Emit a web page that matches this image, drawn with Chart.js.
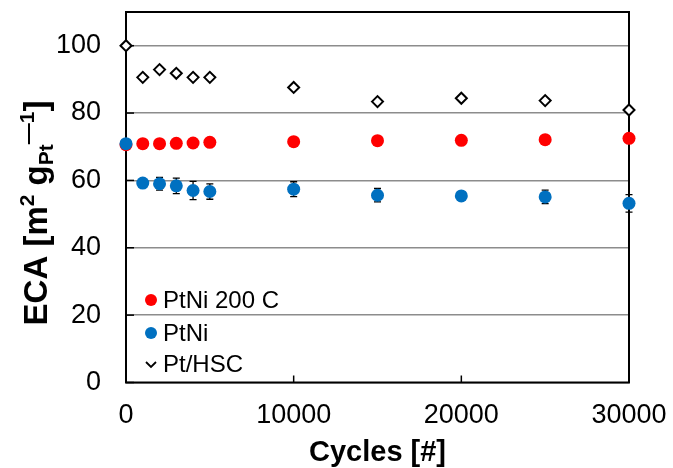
<!DOCTYPE html>
<html>
<head>
<meta charset="utf-8">
<script src="https://cdn.jsdelivr.net/npm/chart.js@4"></script>
<style>
  html, body { margin: 0; padding: 0; background: #fff; }
  #wrap { width: 673px; height: 468px; }
</style>
</head>
<body>
<div id="wrap"><canvas id="chart" width="673" height="468"></canvas></div>
<script>
// data
const cycles = [0, 1000, 2000, 3000, 4000, 5000, 10000, 15000, 20000, 25000, 30000];
const ptni200 = [70.6, 70.9, 70.9, 71.0, 71.1, 71.3, 71.5, 71.8, 71.9, 72.1, 72.5];
const ptni = [70.9, 59.2, 59.0, 58.4, 57.0, 56.7, 57.4, 55.6, 55.4, 55.1, 53.2];
const ptniErr = [0, 0.8, 1.9, 2.3, 2.7, 2.3, 2.2, 2.0, 0.5, 2.0, 2.6];
const ptHsc = [100, 90.6, 92.9, 91.8, 90.6, 90.6, 87.6, 83.4, 84.4, 83.7, 80.9];
const xTicks = [0, 10000, 20000, 30000];
const yTicks = [0, 20, 40, 60, 80, 100];

const FONT = '"Liberation Sans", Arial, sans-serif';
const RED = '#FF0000', BLUE = '#0070C0';

function pts(ys) { return cycles.map((c, i) => ({ x: c, y: ys[i] })); }

// text made of pieces with sup/sub offsets
function richWidth(ctx, parts) {
  let w = 0;
  parts.forEach(p => { ctx.font = 'bold ' + p.size + 'px ' + FONT; w += ctx.measureText(p.t).width; });
  return w;
}
function drawRich(ctx, parts, x, y) {
  let cx = x - richWidth(ctx, parts) / 2;
  parts.forEach(p => {
    ctx.font = 'bold ' + p.size + 'px ' + FONT;
    ctx.fillText(p.t, cx, y + (p.dy || 0));
    cx += ctx.measureText(p.t).width;
  });
}

const decor = {
  id: 'decor',
  beforeDatasetsDraw(chart) {
    const { ctx, chartArea: a, scales: { x, y } } = chart;
    ctx.save();
    // inner tick marks
    ctx.strokeStyle = '#000';
    ctx.lineWidth = 1.5;
    yTicks.forEach(v => {
      const py = y.getPixelForValue(v);
      ctx.beginPath(); ctx.moveTo(a.left, py); ctx.lineTo(a.left + 8, py); ctx.stroke();
    });
    xTicks.forEach(v => {
      const px = x.getPixelForValue(v);
      ctx.beginPath(); ctx.moveTo(px, a.bottom); ctx.lineTo(px, a.bottom - 7); ctx.stroke();
    });
    // plot frame
    ctx.lineWidth = 2;
    ctx.strokeRect(a.left, a.top, a.right - a.left, a.bottom - a.top);
    // error bars for PtNi
    ctx.lineWidth = 1.3;
    cycles.forEach((c, i) => {
      if (!ptniErr[i]) return;
      const px = x.getPixelForValue(c);
      const y1 = y.getPixelForValue(ptni[i] + ptniErr[i]);
      const y2 = y.getPixelForValue(ptni[i] - ptniErr[i]);
      ctx.beginPath();
      ctx.moveTo(px, y1); ctx.lineTo(px, y2);
      ctx.moveTo(px - 3.5, y1); ctx.lineTo(px + 3.5, y1);
      ctx.moveTo(px - 3.5, y2); ctx.lineTo(px + 3.5, y2);
      ctx.stroke();
    });
    ctx.restore();
  },
  afterDraw(chart) {
    const { ctx, chartArea: a } = chart;
    ctx.save();
    ctx.fillStyle = '#000';
    ctx.textBaseline = 'alphabetic';
    // x title
    ctx.font = 'bold 29px ' + FONT;
    ctx.textAlign = 'center';
    ctx.fillText('Cycles [#]', (a.left + a.right) / 2, 461);
    // y title
    ctx.translate(47, 213);
    ctx.rotate(-Math.PI / 2);
    ctx.textAlign = 'left';
    drawRich(ctx, [
      { t: 'ECA [m', size: 33 },
      { t: '2', size: 21, dy: -13 },
      { t: ' g', size: 33 },
      { t: 'Pt', size: 21, dy: 6 },
      { t: '—1', size: 21, dy: -13 },
      { t: ']', size: 33 }
    ], 0, 0);
    ctx.restore();

    // legend inside the plot
    ctx.save();
    ctx.font = '24px ' + FONT;
    ctx.textBaseline = 'middle';
    ctx.fillStyle = '#000';
    const items = chart.data.datasets.slice().reverse();
    const rows = [300, 333, 364];
    items.forEach((ds, i) => {
      const ly = rows[i];
      if (ds.pointStyle === 'circle') {
        ctx.fillStyle = ds.backgroundColor;
        ctx.beginPath(); ctx.arc(151, ly, 6, 0, Math.PI * 2); ctx.fill();
      } else {
        ctx.strokeStyle = '#000';
        ctx.lineWidth = 1.8;
        ctx.beginPath();
        ctx.moveTo(146, ly - 2); ctx.lineTo(151, ly + 3); ctx.lineTo(156, ly - 2);
        ctx.stroke();
      }
      ctx.fillStyle = '#000';
      ctx.fillText(ds.label, 163, ly + 1);
    });
    ctx.restore();
  }
};

new Chart(document.getElementById('chart'), {
  type: 'scatter',
  data: {
    datasets: [
      { label: 'Pt/HSC', data: pts(ptHsc), pointStyle: 'rectRot', pointRadius: 5.5,
        backgroundColor: '#fff', borderColor: '#000', borderWidth: 2, clip: false },
      { label: 'PtNi', data: pts(ptni), pointStyle: 'circle', pointRadius: 6.5,
        backgroundColor: BLUE, borderColor: BLUE, borderWidth: 0, clip: false },
      { label: 'PtNi 200 C', data: pts(ptni200), pointStyle: 'circle', pointRadius: 6.5,
        backgroundColor: RED, borderColor: RED, borderWidth: 0, clip: false }
    ]
  },
  options: {
    responsive: false,
    animation: false,
    devicePixelRatio: 1,
    layout: { padding: { top: 12, right: 44, left: 0, bottom: 0 } },
    plugins: { legend: { display: false }, tooltip: { enabled: false } },
    scales: {
      x: {
        type: 'linear', min: 0, max: 30000,
        afterBuildTicks: s => { s.ticks = xTicks.map(v => ({ value: v })); },
        afterFit: s => { s.height = 85.5; s.paddingLeft = 0; s.paddingRight = 0; },
        grid: { display: false, drawTicks: false },
        border: { display: false },
        ticks: { font: { family: FONT, size: 27 }, color: '#000', padding: 17, maxRotation: 0,
                 callback: v => String(v) }
      },
      y: {
        min: 0, max: 110,
        afterBuildTicks: s => { s.ticks = yTicks.map(v => ({ value: v })); },
        afterFit: s => { s.width = 126; s.paddingTop = 0; s.paddingBottom = 0; },
        grid: { color: '#8c8c8c', lineWidth: 1.5, drawTicks: false },
        border: { display: false },
        ticks: { font: { family: FONT, size: 27 }, color: '#000', padding: 25 }
      }
    }
  },
  plugins: [decor]
});
</script>
</body>
</html>
